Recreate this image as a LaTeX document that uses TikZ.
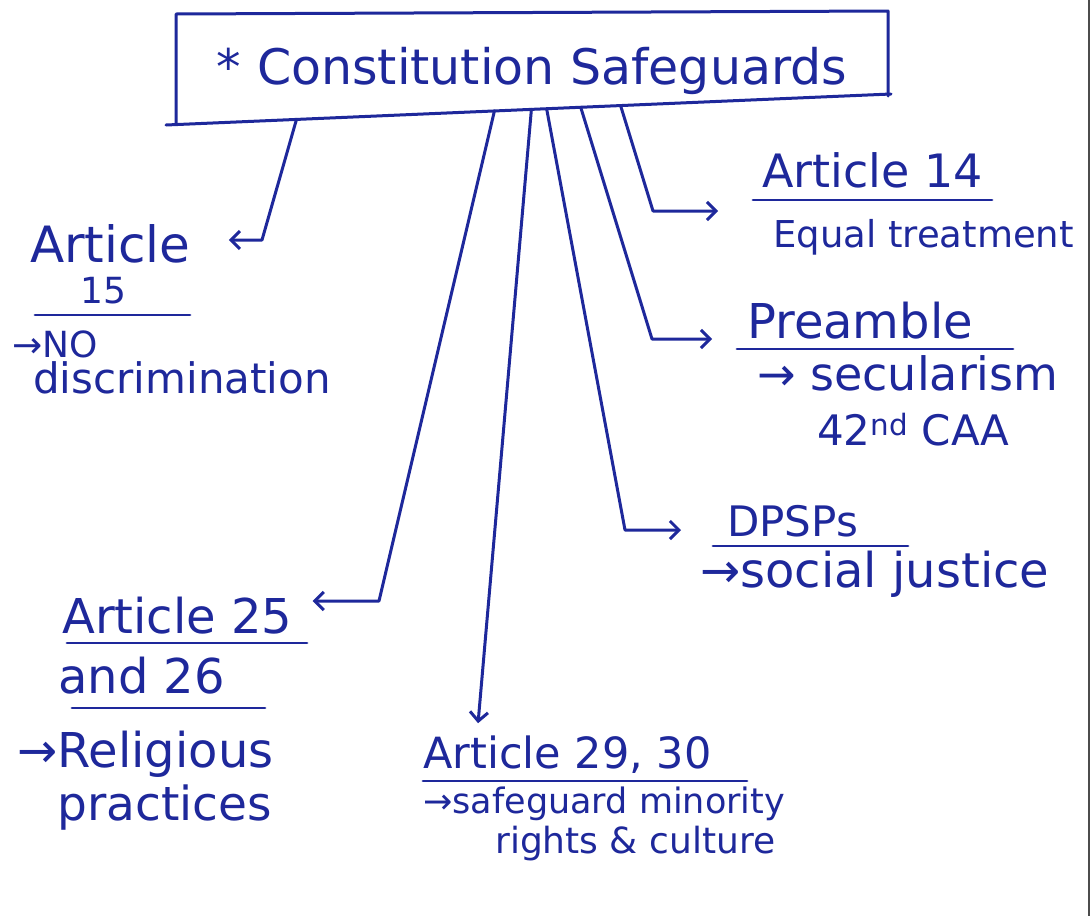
\documentclass[tikz,border=0pt]{standalone}
\usepackage{fontspec}
\setmainfont{DejaVu Sans}
\usetikzlibrary{arrows.meta,calc}
\definecolor{ink}{RGB}{30,40,155}
\begin{document}
\begin{tikzpicture}[x=1pt,y=-1pt,
  inkline/.style={draw=ink, line width=3pt, line cap=round, line join=round},
  link/.style={inkline, -{Straight Barb[length=9pt,width=18pt]}},
  uline/.style={draw=ink, line width=2.8pt, line cap=round},
  lbl/.style={text=ink, inner sep=0pt, anchor=base west, font=\fontsize{#1}{#1}\selectfont},
]
\fill[white] (0,0) rectangle (1092,916);
\useasboundingbox (0,0) rectangle (1092,916);

% edge of the sheet
\draw[black!70, line width=2pt] (1089,0) -- (1089,916);

% title box
\node[lbl=49, anchor=base] (box) at (532,84) {* Constitution Safeguards};
\coordinate (bl) at (166,125);
\coordinate (br) at (891,94);
\draw[inkline] (176,124) -- (176,14) -- (888,11) -- (888,96);
\draw[inkline] (bl) -- (br);

% Article 15
\node[lbl=50] (t15a) at (30,262) {Article};
\node[lbl=36] (t15b) at (80,303) {15};
\node[lbl=36] (t15c) at (12,357) {→NO};
\node[lbl=42] (t15d) at (33,393) {discrimination};
\draw[uline] (35,315) -- (190,315);

% Article 14
\node[lbl=46] (t14a) at (762,187) {Article 14};
\node[lbl=37] (t14b) at (773,247) {Equal treatment};
\draw[uline] (753,200) -- (992,200);

% Preamble
\node[lbl=48] (tPa) at (747,338) {Preamble};
\node[lbl=46] (tPb) at (757,390) {→ secularism};
\node[lbl=42] (tPc) at (817,445) {42\textsuperscript{nd} CAA};
\draw[uline] (737,349) -- (1013,349);

% DPSPs
\node[lbl=42] (tDa) at (727,536) {DPSPs};
\node[lbl=48] (tDb) at (700,587) {→social justice};
\draw[uline] (713,546) -- (908,546);

% Article 25 and 26
\node[lbl=48] (t25a) at (62,633) {Article 25};
\node[lbl=48] (t25b) at (58,693) {and 26};
\node[lbl=48] (t25c) at (17,767) {→Religious};
\node[lbl=47] (t25d) at (57,820) {practices};
\draw[uline] (67,643) -- (307,643);
\draw[uline] (72,708) -- (265,708);

% Article 29, 30
\node[lbl=43] (t29a) at (423,768) {Article 29, 30};
\node[lbl=35] (t29b) at (423,813) {→safeguard minority};
\node[lbl=36] (t29c) at (495,853) {rights \& culture};
\draw[uline] (423,781) -- (747,781);

% connectors from the box
\coordinate (c15) at (262,240);
\coordinate (c25) at (379,601);
\coordinate (cD) at (625,530);
\coordinate (cP) at (652,339);
\coordinate (c14) at (653,211);

\draw[link, shorten >=38pt] ($(bl)!0.180!(br)$) -- (c15) -- (c15 -| t15a.east);
\draw[link, shorten >=20pt] ($(bl)!0.453!(br)$) -- (c25) -- (c25 -| t25a.east);
\draw[link, shorten >=12pt] ($(bl)!0.504!(br)$) -- ([xshift=54pt]t29a.north west);
\draw[link, shorten >=46pt] ($(bl)!0.525!(br)$) -- (cD) -- (cD -| tDa.west);
\draw[link, shorten >=35pt] ($(bl)!0.572!(br)$) -- (cP) -- (cP -| tPa.west);
\draw[link, shorten >=44pt] ($(bl)!0.627!(br)$) -- (c14) -- (c14 -| t14a.west);
\end{tikzpicture}
\end{document}
